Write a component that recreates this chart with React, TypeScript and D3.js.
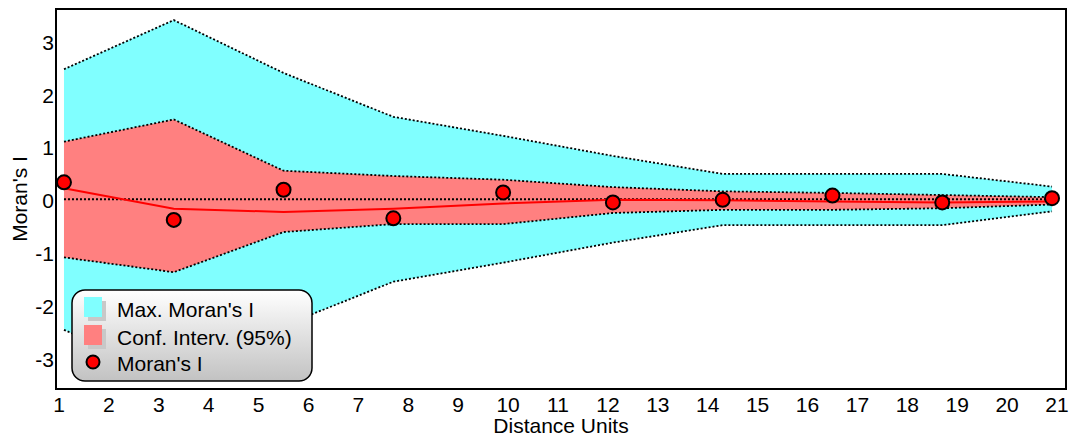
import React from "react";
import * as d3 from "d3";

const distances = [1.1, 3.3, 5.5, 7.7, 9.9, 12.1, 14.3, 16.5, 18.7, 20.9];
const moransI = [0.32, -0.39, 0.18, -0.36, 0.13, -0.06, -0.01, 0.07, -0.06, 0.02];
const trendI = [0.21, -0.18, -0.24, -0.18, -0.08, -0.01, -0.02, -0.04, -0.06, -0.04];
const maxUpper = [2.46, 3.39, 2.39, 1.56, 1.2, 0.82, 0.48, 0.48, 0.48, 0.24];
const maxLower = [-2.47, -3.39, -2.39, -1.56, -1.2, -0.82, -0.49, -0.49, -0.49, -0.23];
const confUpper = [1.09, 1.51, 0.54, 0.44, 0.37, 0.23, 0.15, 0.12, 0.08, 0.04];
const confLower = [-1.1, -1.38, -0.62, -0.47, -0.47, -0.26, -0.2, -0.2, -0.17, -0.1];
const xTicks = d3.range(1, 22);
const yTicks = [-3, -2, -1, 0, 1, 2, 3];
const legendLabels = ["Max. Moran's I", "Conf. Interv. (95%)", "Moran's I"];

const W = 1074;
const H = 445;
const L = 56, R = 1066, T = 9, B = 389;
const FONT = "'Liberation Sans', Arial, Helvetica, sans-serif";
const FS = 21;
const CYAN = "#80ffff";
const PINK = "#ff8080";

export default function App() {
  const x = d3.scaleLinear().domain([0.94, 21.18]).range([L, R]);
  const y = d3.scaleLinear().domain([-3.59, 3.6]).range([B, T]);

  const idx = distances.map((_, i) => i);
  const band = (lo: number[], hi: number[]) =>
    d3
      .area<number>()
      .x((i) => x(distances[i]))
      .y0((i) => y(lo[i]))
      .y1((i) => y(hi[i]))(idx) || "";
  const line = (v: number[]) =>
    d3
      .line<number>()
      .x((i) => x(distances[i]))
      .y((i) => y(v[i]))(idx) || "";
  const zeroLine = d3.line<number>().x((d) => x(d)).y(() => y(0))([
    distances[0],
    distances[distances.length - 1],
  ]) || "";

  const dotted = { fill: "none", stroke: "#000", strokeWidth: 1.8, strokeDasharray: "2 2" };

  const legX = 72, legY = 290, legW = 240, legH = 91;
  const rowBase = [317, 344.5, 371];

  return (
    <svg
      width={W}
      height={H}
      style={{ position: "absolute", left: 0, top: 0, background: "#fff" }}
      fontFamily={FONT}
    >
      <defs>
        <linearGradient id="legGrad" x1="0" y1="0" x2="0" y2="1">
          <stop offset="0%" stopColor="#ffffff" />
          <stop offset="100%" stopColor="#c2c2c2" />
        </linearGradient>
        <clipPath id="plotClip">
          <rect x={L} y={T} width={R - L} height={B - T} />
        </clipPath>
      </defs>

      <g clipPath="url(#plotClip)">
        <path d={band(maxLower, maxUpper)} fill={CYAN} />
        <path d={band(confLower, confUpper)} fill={PINK} />
        <path d={line(maxUpper)} {...dotted} />
        <path d={line(maxLower)} {...dotted} />
        <path d={line(confUpper)} {...dotted} />
        <path d={line(confLower)} {...dotted} />
        <path d={zeroLine} {...dotted} />
        <path d={line(trendI)} fill="none" stroke="#ff0000" strokeWidth={2} />
        {distances.map((d, i) => (
          <circle
            key={i}
            cx={x(d)}
            cy={y(moransI[i])}
            r={7}
            fill="#ff0000"
            stroke="#000"
            strokeWidth={2}
          />
        ))}
      </g>

      <rect x={L} y={T} width={R - L} height={B - T} fill="none" stroke="#000" strokeWidth={2} />

      {xTicks.map((t) => (
        <text key={t} x={x(t)} y={412} textAnchor="middle" fontSize={FS} fill="#000">
          {t}
        </text>
      ))}
      {yTicks.map((t) => (
        <text key={t} x={54} y={y(t) + 9} textAnchor="end" fontSize={FS} fill="#000">
          {t}
        </text>
      ))}
      <text x={(L + R) / 2} y={433} textAnchor="middle" fontSize={FS} fill="#000">
        Distance Units
      </text>
      <text
        transform={`translate(27, ${(T + B) / 2}) rotate(-90)`}
        textAnchor="middle"
        fontSize={FS}
        fill="#000"
      >
        Moran's I
      </text>

      <g>
        <rect
          x={legX}
          y={legY}
          width={legW}
          height={legH}
          rx={13}
          ry={13}
          fill="url(#legGrad)"
          stroke="#000"
          strokeWidth={1.5}
        />
        <rect x={88} y={301} width={18} height={20} fill="#c8c8c8" />
        <rect x={84} y={297} width={18} height={20} fill={CYAN} />
        <rect x={88} y={329} width={18} height={20} fill="#c8c8c8" />
        <rect x={84} y={325} width={18} height={20} fill={PINK} />
        <circle cx={93} cy={362} r={6.5} fill="#ff0000" stroke="#000" strokeWidth={2} />
        {legendLabels.map((l, i) => (
          <text key={l} x={117} y={rowBase[i]} fontSize={FS} fill="#000">
            {l}
          </text>
        ))}
      </g>
    </svg>
  );
}
